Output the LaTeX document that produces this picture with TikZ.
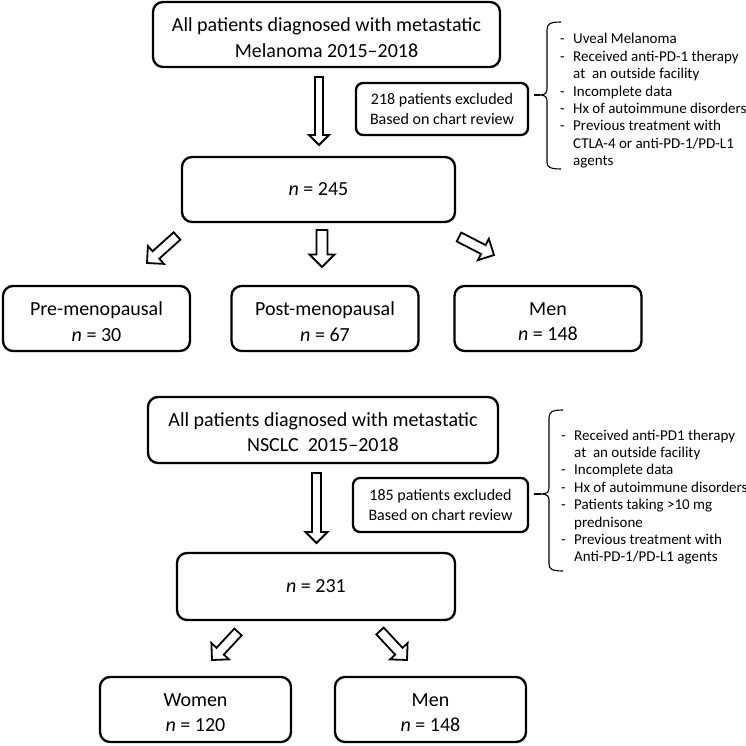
\documentclass[tikz,border=0pt]{standalone}
\usepackage{fontspec}
\setmainfont{Carlito}
\usetikzlibrary{calc}
\tikzset{
  box/.style={draw, line width=2.3pt, rounded corners=10pt, align=center, inner sep=0pt,
    font=\fontsize{20}{25}\selectfont},
  rowbox/.style={box, minimum width=187pt, minimum height=65pt},
  boxtxt/.style={align=center, inner sep=0pt, font=\fontsize{20}{25.5}\selectfont},
  exbox/.style={draw, line width=2.3pt, rounded corners=7pt, align=center, inner sep=0pt,
    font=\fontsize{16}{19.5}\selectfont},
  listtxt/.style={inner sep=0pt, font=\fontsize{15}{17.4}\selectfont},
  barrow/.style={draw, line width=1.8pt, fill=white, line join=miter},
  bracel/.style={draw, line width=1.1pt},
}
\newcommand\blockarrow[5]{%
  \coordinate (bah) at ($(#2)!#5!(#1)$);
  \draw[barrow] ($(#1)!#3!90:(#2)$) -- ($(bah)!#3!90:(#2)$) -- ($(bah)!#4!90:(#2)$) -- (#2)
    -- ($(bah)!#4!-90:(#2)$) -- ($(bah)!#3!-90:(#2)$) -- ($(#1)!#3!-90:(#2)$) -- cycle;
}
\begin{document}
\begin{tikzpicture}[x=1pt, y=-1pt]
\useasboundingbox[fill=white] (0,0) rectangle (746,746);

% ---------- Part 1: Melanoma ----------
\node[box, minimum width=347pt, minimum height=65pt] (B1) at (326.5,34.5) {};
\node[boxtxt] (B1t) at ([yshift=-3pt]B1.center) {All patients diagnosed with metastatic\\Melanoma 2015--2018};
\node[exbox, minimum width=172pt, minimum height=52pt] (E1) at (442,109)
  {218 patients excluded\\Based on chart review};
\node[box, minimum width=273pt, minimum height=65pt] (N1) at (318.5,189.5) {\textit{n} = 245};
\node[rowbox] (Pre) at (96.5,318.5) {};
\node[rowbox] (Post) at (325,318.5) {};
\node[rowbox] (M1) at (548,318.5) {};
\node[boxtxt] (Pret) at ([yshift=-3pt]Pre.center) {Pre-menopausal\\\textit{n} = 30};
\node[boxtxt] (Postt) at ([yshift=-3pt]Post.center) {Post-menopausal\\\textit{n} = 67};
\node[boxtxt] (M1t) at ([yshift=-3pt]M1.center) {Men\\\textit{n} = 148};

\coordinate (a1t) at (319,77);  \coordinate (a1h) at (319,145);
\coordinate (a2t) at (322,230); \coordinate (a2h) at (322,267);
\coordinate (a3t) at (177,236); \coordinate (a3h) at (147,263);
\coordinate (a4t) at (459,237); \coordinate (a4h) at (494,255);
\blockarrow{a1t}{a1h}{4pt}{10pt}{10pt}
\blockarrow{a2t}{a2h}{5.5pt}{12.5pt}{12.5pt}
\blockarrow{a3t}{a3h}{5pt}{12pt}{12pt}
\blockarrow{a4t}{a4h}{5pt}{12pt}{12pt}

\coordinate (t1) at (540,95);
\draw[bracel] ([xshift=5pt]E1.east |- t1) -- (t1);
\draw[bracel] (561,22) .. controls (550,22) and (547,24) .. (547,30) -- (547,89)
  .. controls (547,93) and (545,95) .. (t1) .. controls (545,95) and (547,97) .. (547,101)
  -- (547,162) .. controls (547,167) and (550,169) .. (561,169);
\node[listtxt, anchor=base west] (L1) at (560,44) {\begin{tabular}[t]{@{}p{13pt}@{}l@{}}
-&Uveal Melanoma\\
-&Received anti-PD-1 therapy\\
&at\ \ an outside facility\\
-&Incomplete data\\
-&Hx of autoimmune disorders\\
-&Previous treatment with\\
&CTLA-4 or anti-PD-1/PD-L1\\
&agents\end{tabular}};

% ---------- Part 2: NSCLC ----------
\node[box, minimum width=350pt, minimum height=66pt] (B2) at (323,430) {};
\node[boxtxt] (B2t) at ([yshift=-2pt]B2.center) {All patients diagnosed with metastatic\\NSCLC\ \ 2015--2018};
\node[exbox, minimum width=175pt, minimum height=54pt] (E2) at (440.5,505)
  {185 patients excluded\\Based on chart review};
\node[box, minimum width=278pt, minimum height=67pt] (N2) at (316,586.5) {\textit{n} = 231};
\node[rowbox, minimum width=191pt] (W) at (195.5,709.5) {};
\node[rowbox, minimum width=191pt] (M2) at (430.5,709.5) {};
\node[boxtxt] (Wt) at ([yshift=-3pt]W.center) {Women\\\textit{n} = 120};
\node[boxtxt] (M2t) at ([yshift=-3pt]M2.center) {Men\\\textit{n} = 148};

\coordinate (a5t) at (316.5,473); \coordinate (a5h) at (316.5,543);
\coordinate (a6t) at (238,632);   \coordinate (a6h) at (212,660);
\coordinate (a7t) at (380,631);   \coordinate (a7h) at (407,660);
\blockarrow{a5t}{a5h}{4.5pt}{11pt}{11pt}
\blockarrow{a6t}{a6h}{5pt}{12pt}{12pt}
\blockarrow{a7t}{a7h}{5pt}{12pt}{12pt}

\coordinate (t2) at (541,494);
\draw[bracel] ([xshift=5pt]E2.east |- t2) -- (t2);
\draw[bracel] (563,410) .. controls (552,410) and (549,412) .. (549,418) -- (549,488)
  .. controls (549,492) and (547,494) .. (t2) .. controls (547,494) and (549,496) .. (549,500)
  -- (549,564) .. controls (549,569) and (552,571) .. (563,571);
\node[listtxt, anchor=base west] (L2) at (561,440) {\begin{tabular}[t]{@{}p{13pt}@{}l@{}}
-&Received\ anti-PD1 therapy\\
&at\ \ an outside facility\\
-&Incomplete data\\
-&Hx of autoimmune disorders\\
-&Patients taking >10 mg\\
&prednisone\\
-&Previous treatment\ with\\
&Anti-PD-1/PD-L1 agents\end{tabular}};
\end{tikzpicture}
\end{document}
